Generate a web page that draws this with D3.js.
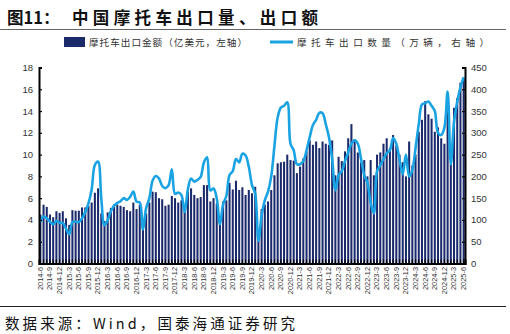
<!DOCTYPE html>
<html>
<head>
<meta charset="utf-8">
<script src="https://cdn.jsdelivr.net/npm/d3@7"></script>
<style>
  body { margin: 0; background: #fff; }
  text { font-family: "Liberation Sans", Arial, sans-serif; }
  .cjk { font-family: "Noto Sans CJK SC", sans-serif; }
</style>
</head>
<body>
<svg id="chart" width="510" height="334"></svg>
<script>
// Monthly motorcycle exports, 2014-6 .. 2025-6
const tickLabels = [
  "2014-6","2014-9","2014-12","2015-3","2015-6","2015-9","2015-12",
  "2016-3","2016-6","2016-9","2016-12","2017-3","2017-6","2017-9","2017-12",
  "2018-3","2018-6","2018-9","2018-12","2019-3","2019-6","2019-9","2019-12",
  "2020-3","2020-6","2020-9","2020-12","2021-3","2021-6","2021-9","2021-12",
  "2022-3","2022-6","2022-9","2022-12","2023-3","2023-6","2023-9","2023-12",
  "2024-3","2024-6","2024-9","2024-12","2025-3","2025-6"
];

// export value, 100 million USD (left axis)
const exportValue = [
  4.5, 5.4, 5.2, 4.5, 4.25, 4.8, 4.65, 4.8, 4.15, 3.55,
  4.9, 4.85, 4.85, 5.15, 5.15, 5.3, 5.6, 6.5, 6.9, 4.6,
  3.9, 4.7, 5.1, 5.4, 5.4, 5.3, 5.2, 4.9, 4.8, 5.6,
  5.0, 5.4, 3.2, 4.6, 5.6, 6.6, 6.55, 6.0, 5.9, 5.3,
  5.4, 6.2, 6.0, 5.6, 5.8, 4.8, 6.6, 6.9, 6.3, 6.0,
  6.1, 7.2, 7.2, 5.7, 6.0, 5.5, 4.0, 5.7, 5.8, 7.4,
  6.8, 7.6, 6.75, 7.0, 6.3, 6.75, 6.45, 7.05, 3.1, 5.0,
  5.4, 5.7, 6.75, 8.1, 9.2, 9.3, 9.35, 10.0, 9.5, 9.45,
  8.3, 8.9, 9.65, 10.3, 11.3, 10.9, 11.2, 10.6, 11.2, 11.0,
  10.9, 11.3, 8.1, 9.8, 9.4, 10.3, 11.5, 12.8, 11.4, 10.2,
  9.3, 9.5, 8.0, 9.5, 8.1, 10.0, 10.2, 11.0, 11.5, 10.6,
  11.8, 10.8, 10.0, 9.3, 8.0, 11.2, 9.0, 10.0, 12.1, 13.2,
  14.9, 13.7, 13.3, 12.1, 12.5, 11.5, 11.0, 15.5, 9.3, 14.3,
  15.2, 16.6, 17.0
];

// export volume, 10 thousand units (right axis)
const exportVolume = [
  95, 108, 104, 96, 90, 98, 93, 93, 80, 67,
  95, 96, 95, 104, 118, 138, 170, 226, 234, 150,
  88, 100, 120, 133, 139, 143, 150, 146, 153, 165,
  142, 140, 78, 128, 150, 190, 201, 195, 178, 173,
  180, 216, 160, 163, 157, 118, 170, 195, 188, 192,
  199, 232, 244, 168, 172, 150, 90, 136, 155, 203,
  212, 240, 232, 252, 248, 222, 180, 160, 52, 110,
  145, 165, 200, 270, 335, 358, 362, 370, 275, 260,
  228, 228, 235, 260, 290, 318, 330, 346, 345, 320,
  290, 240, 168, 203, 212, 235, 255, 275, 283, 275,
  240, 203, 185, 140, 115, 212, 225, 240, 253, 260,
  288, 275, 238, 205, 250, 200, 215, 265, 320, 365,
  368, 372, 362, 350, 300, 295, 312, 395, 228, 326,
  372, 405, 428
];

const leftTicks = d3.range(0, 19, 2);
const rightTicks = d3.range(0, 451, 50);

const months = d3.timeMonths(new Date(2014, 5, 1), new Date(2025, 6, 1))
  .map(d => `${d.getFullYear()}-${d.getMonth() + 1}`);

const barColor = "#1b2a6b";
const lineColor = "#1aa3e3";

const svg = d3.select("#chart");

// title
svg.append("text").attr("class", "cjk")
  .attr("x", 7).attr("y", 24)
  .attr("font-size", 16.5).attr("font-weight", "bold").attr("fill", "#111")
  .text("图11：");
svg.append("text").attr("class", "cjk")
  .attr("x", 72).attr("y", 24)
  .attr("font-size", 16.5).attr("font-weight", "bold").attr("fill", "#111")
  .attr("textLength", 246).attr("lengthAdjust", "spacing")
  .text("中国摩托车出口量、出口额");
svg.append("line").attr("x1", 0).attr("x2", 506).attr("y1", 29.5).attr("y2", 29.5)
  .attr("stroke", "#666").attr("stroke-width", 1);

// legend
svg.append("rect").attr("x", 64).attr("y", 37).attr("width", 21).attr("height", 10).attr("fill", barColor);
svg.append("text").attr("class", "cjk").attr("x", 89).attr("y", 46)
  .attr("font-size", 9.6).attr("fill", "#333")
  .attr("textLength", 158).attr("lengthAdjust", "spacing")
  .text("摩托车出口金额（亿美元，左轴）");
svg.append("line").attr("x1", 270).attr("x2", 293).attr("y1", 42).attr("y2", 42)
  .attr("stroke", lineColor).attr("stroke-width", 3);
svg.append("text").attr("class", "cjk").attr("x", 297).attr("y", 46)
  .attr("font-size", 9.6).attr("fill", "#333")
  .attr("textLength", 192).attr("lengthAdjust", "spacing")
  .text("摩托车出口数量（万辆，右轴）");

// scales
const x = d3.scaleBand().domain(months).range([39, 465]).paddingInner(0.36).paddingOuter(0.1);
const yL = d3.scaleLinear().domain([0, 18]).range([263.5, 67.5]);
const yR = d3.scaleLinear().domain([0, 450]).range([263.5, 67.5]);

// bars
svg.append("g").selectAll("rect").data(exportValue).join("rect")
  .attr("x", (d, i) => x(months[i]))
  .attr("width", x.bandwidth())
  .attr("y", d => yL(d))
  .attr("height", d => yL(0) - yL(d))
  .attr("fill", barColor);

// line
const line = d3.line()
  .x((d, i) => x(months[i]) + x.bandwidth() / 2)
  .y(d => yR(d))
  .curve(d3.curveCatmullRom.alpha(0.5));
svg.append("path").datum(exportVolume)
  .attr("d", line).attr("fill", "none")
  .attr("stroke", lineColor).attr("stroke-width", 2.6)
  .attr("stroke-linejoin", "round");

// axes
const gL = svg.append("g").attr("transform", "translate(39,0)")
  .call(d3.axisLeft(yL).tickValues(leftTicks).tickSize(-3).tickPadding(6).tickFormat(d3.format("d")));
const gR = svg.append("g").attr("transform", "translate(465,0)")
  .call(d3.axisRight(yR).tickValues(rightTicks).tickSize(-3).tickPadding(6).tickFormat(d3.format("d")));
const gB = svg.append("g").attr("transform", "translate(0,263.5)")
  .call(d3.axisBottom(x).tickSize(-4).tickPadding(0).tickFormat(d => tickLabels.includes(d) ? d : ""));

[gL, gR, gB].forEach(g => {
  g.select(".domain").attr("stroke", "#000").attr("stroke-width", 2);
  g.selectAll(".tick line").attr("stroke", "#000").attr("stroke-width", 1.2);
  g.selectAll("text").attr("fill", "#333").attr("font-family", "'Liberation Sans', Arial, sans-serif");
});
gL.selectAll("text").attr("font-size", 9.5);
gR.selectAll("text").attr("font-size", 9.5);
gB.selectAll("text")
  .attr("font-size", 7.4)
  .attr("transform", "rotate(-90)")
  .attr("text-anchor", "end")
  .attr("dy", "0.32em")
  .attr("x", -3.5)
  .attr("y", 0);

// source
svg.append("line").attr("x1", 0).attr("x2", 506).attr("y1", 306.5).attr("y2", 306.5)
  .attr("stroke", "#222").attr("stroke-width", 1);
svg.append("text").attr("class", "cjk").attr("x", 5).attr("y", 329)
  .attr("font-size", 14.5).attr("fill", "#111")
  .attr("textLength", 290).attr("lengthAdjust", "spacing")
  .text("数据来源：Wind，国泰海通证券研究");
</script>
</body>
</html>
